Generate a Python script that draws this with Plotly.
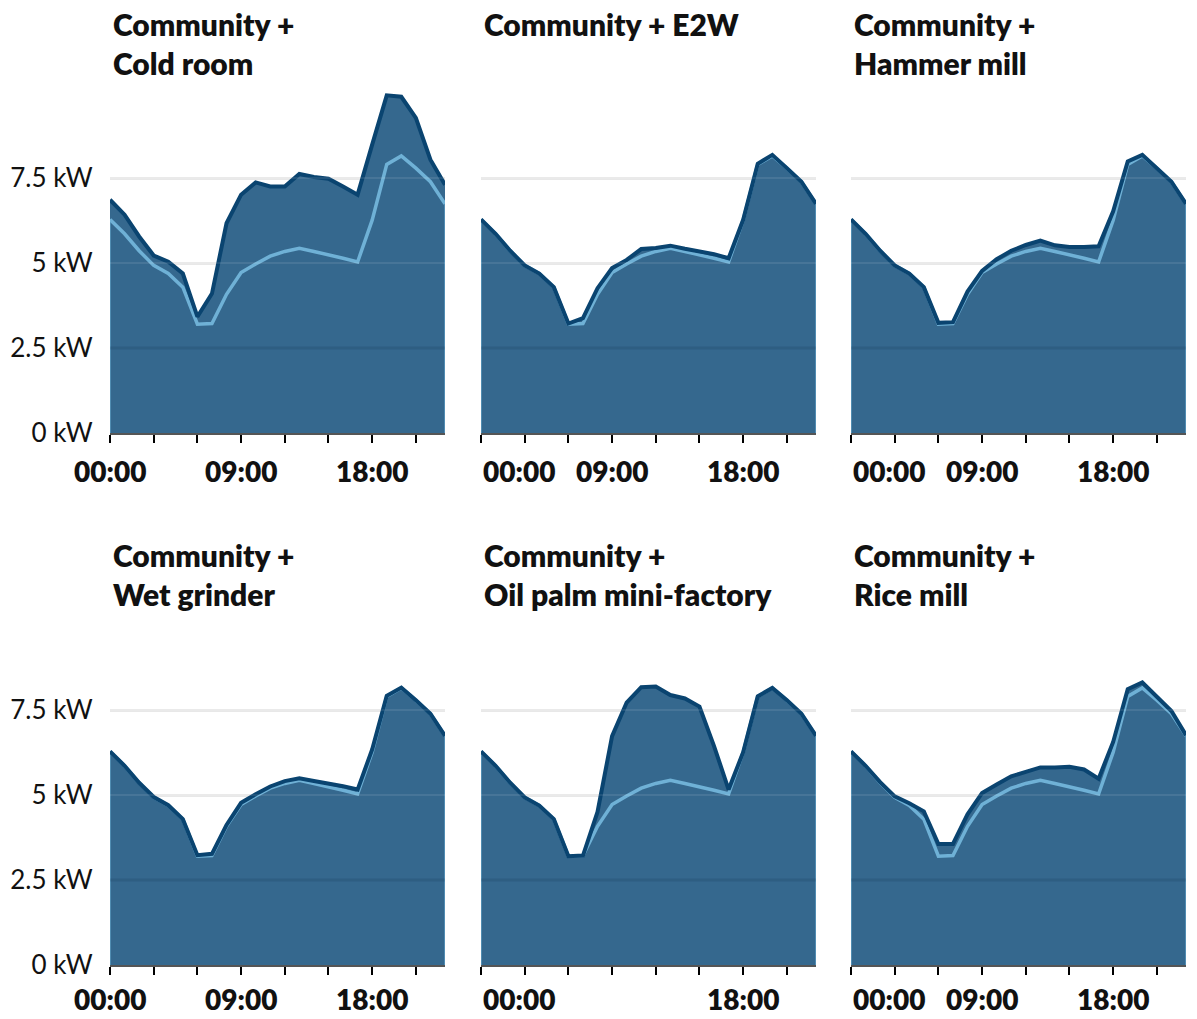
import plotly.graph_objects as go

W, H = 1197, 1019

hours = list(range(24))

# Baseline community demand (kW), hourly
community = [6.28, 5.86, 5.36, 4.93, 4.69, 4.29, 3.20, 3.22, 4.08, 4.72, 4.97, 5.20,
             5.34, 5.43, 5.34, 5.25, 5.14, 5.03, 6.26, 7.90, 8.15, 7.79, 7.39, 6.74]

# Community demand plus each productive-use appliance (kW)
cold_room = [6.86, 6.42, 5.78, 5.22, 5.04, 4.69, 3.42, 4.10, 6.17, 7.01, 7.37, 7.25,
             7.25, 7.62, 7.53, 7.48, 7.25, 7.01, 8.48, 9.93, 9.89, 9.27, 8.04, 7.30]
e2w = [6.28, 5.86, 5.36, 4.93, 4.69, 4.29, 3.22, 3.38, 4.26, 4.85, 5.09, 5.41,
       5.44, 5.51, 5.42, 5.34, 5.26, 5.14, 6.27, 7.92, 8.18, 7.79, 7.39, 6.74]
hammer_mill = [6.28, 5.86, 5.36, 4.93, 4.69, 4.29, 3.24, 3.26, 4.16, 4.77, 5.11, 5.36,
               5.53, 5.66, 5.52, 5.47, 5.47, 5.49, 6.52, 7.99, 8.18, 7.79, 7.39, 6.74]
wet_grinder = [6.28, 5.86, 5.36, 4.94, 4.70, 4.29, 3.23, 3.27, 4.12, 4.77, 5.02, 5.25,
               5.41, 5.49, 5.41, 5.34, 5.26, 5.16, 6.34, 7.92, 8.16, 7.79, 7.39, 6.74]
oil_palm = [6.28, 5.86, 5.36, 4.93, 4.69, 4.29, 3.20, 3.22, 4.50, 6.73, 7.72, 8.17,
            8.19, 7.94, 7.84, 7.60, 6.44, 5.16, 6.26, 7.90, 8.15, 7.79, 7.39, 6.74]
rice_mill = [6.28, 5.86, 5.38, 4.96, 4.76, 4.52, 3.56, 3.56, 4.43, 5.06, 5.31, 5.55,
             5.68, 5.81, 5.81, 5.83, 5.75, 5.48, 6.56, 8.11, 8.31, 7.87, 7.47, 6.76]

titles = ["Community +<br>Cold room", "Community + E2W", "Community +<br>Hammer mill",
          "Community +<br>Wet grinder", "Community +<br>Oil palm mini-factory",
          "Community +<br>Rice mill"]
totals = [cold_room, e2w, hammer_mill, wet_grinder, oil_palm, rice_mill]

y_ticks = [0, 2.5, 5, 7.5]
y_tick_text = ["0 kW", "2.5 kW", "5 kW", "7.5 kW"]
x_ticks = [0, 3, 6, 9, 12, 15, 18, 21]
x_label_hours = [0, 9, 18]
x_label_text = ["00:00", "09:00", "18:00"]
# which hour labels each panel shows, and whether the first one is left-aligned
shown_labels = [[0, 9, 18], [0, 9, 18], [0, 9, 18], [0, 9, 18], [0, 18], [0, 9, 18]]
first_left = [False, True, True, False, True, True]

FILL = "#35688e"
DARK = "#0a4470"
LIGHT = "#6fb1d6"
FONT = "Lato"

col_px = [(110, 445), (481, 816), (851, 1186)]
row_px = [433, 965]   # pixel y of 0 kW
Y_MAX = 10.0
PX_PER_KW = 34.0

fig = go.Figure()
layout = dict(
    width=W, height=H, margin=dict(l=0, r=0, t=0, b=0, pad=0, autoexpand=False),
    paper_bgcolor="white", plot_bgcolor="white", showlegend=False,
    font=dict(family=FONT, color="#111111"),
)
annotations = []
shapes = []

for i in range(6):
    r, c = divmod(i, 3)
    n = i + 1
    xa = "x" if n == 1 else f"x{n}"
    ya = "y" if n == 1 else f"y{n}"
    x0p, x1p = col_px[c]
    y0p = row_px[r]
    y1p = y0p - Y_MAX * PX_PER_KW
    layout["xaxis" if n == 1 else f"xaxis{n}"] = dict(
        domain=[x0p / W, x1p / W], range=[0, 23], anchor=ya,
        tickvals=x_ticks, showticklabels=False, ticks="outside", ticklen=8,
        tickwidth=2, tickcolor="#000000", showline=True, linecolor="#555555",
        linewidth=2, showgrid=False, zeroline=False, fixedrange=True,
        automargin=False,
    )
    layout["yaxis" if n == 1 else f"yaxis{n}"] = dict(
        domain=[(H - y0p) / H, (H - y1p) / H], range=[0, Y_MAX], anchor=xa,
        tickvals=y_ticks, ticktext=y_tick_text, showticklabels=(c == 0),
        ticks="outside", ticklen=11, tickcolor="rgba(0,0,0,0)",
        tickfont=dict(size=26, family=FONT, color="#111111"),
        showgrid=True, gridcolor="#e8e8e8", gridwidth=3,
        zeroline=False, showline=False, fixedrange=True, automargin=False,
    )

    total = totals[i]
    # total demand area
    fig.add_trace(go.Scatter(x=hours, y=total, xaxis=xa, yaxis=ya, mode="lines",
                             fill="tozeroy", fillcolor=FILL, line=dict(width=0),
                             hoverinfo="skip"))
    # thin outline of the community area (including its vertical edges)
    fig.add_trace(go.Scatter(x=[0] + hours + [23], y=[0] + community + [0],
                             xaxis=xa, yaxis=ya, mode="lines",
                             line=dict(color=LIGHT, width=1), hoverinfo="skip"))
    # community baseline line
    fig.add_trace(go.Scatter(x=hours, y=community, xaxis=xa, yaxis=ya, mode="lines",
                             line=dict(color=LIGHT, width=3.5), hoverinfo="skip"))
    # total demand line
    fig.add_trace(go.Scatter(x=hours, y=total, xaxis=xa, yaxis=ya, mode="lines",
                             line=dict(color=DARK, width=4), hoverinfo="skip"))

    # faint grid traces visible through the area
    for gv, gc, gw in [(5, "rgba(255,255,255,0.18)", 1), (7.5, "rgba(255,255,255,0.18)", 1),
                       (2.5, "rgba(0,25,50,0.12)", 3)]:
        shapes.append(dict(type="line", xref=xa, yref=ya, x0=0, x1=23, y0=gv, y1=gv,
                           line=dict(color=gc, width=gw), layer="above"))

    # panel title
    annotations.append(dict(
        text=titles[i], xref="paper", yref="paper",
        x=(x0p + 1) / W, y=(H - (4 if r == 0 else 535)) / H,
        xanchor="left", yanchor="top", align="left", showarrow=False,
        font=dict(size=30, family=FONT, color="#111111", weight=800),
    ))

    # hour labels
    for hval in shown_labels[i]:
        txt = x_label_text[x_label_hours.index(hval)]
        left = (hval == 0 and first_left[i])
        annotations.append(dict(
            text=txt, xref=xa, yref=ya, x=hval, y=0,
            xanchor="left" if left else "center", yanchor="top", borderpad=0,
            xshift=1 if left else 0, yshift=-20 if r == 0 else -16, showarrow=False,
            font=dict(size=28, family=FONT, color="#111111", weight=800),
        ))

layout["annotations"] = annotations
layout["shapes"] = shapes
fig.update_layout(**layout)

fig.write_html("out.html")
